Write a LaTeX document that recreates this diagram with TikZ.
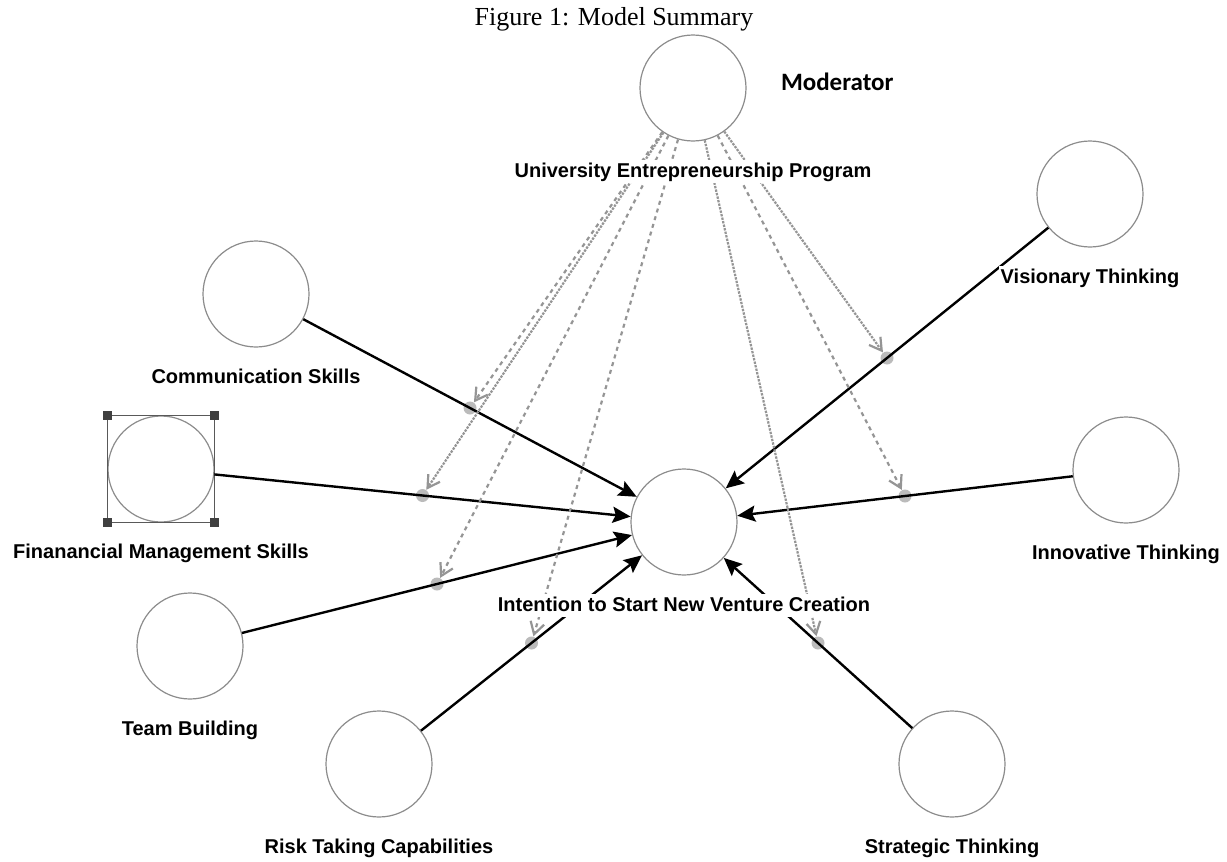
\documentclass[tikz,border=0pt]{standalone}
\usepackage{fontspec}
\setmainfont{Liberation Serif}
\setsansfont{Liberation Sans}
\newfontfamily\tagfont{Carlito}
\usetikzlibrary{positioning,arrows.meta,calc}
\definecolor{ringgray}{HTML}{8C8C8C}
\definecolor{pathgray}{HTML}{959595}
\definecolor{dotgray}{HTML}{BBBBBB}
\tikzset{
  latent/.style={circle,draw=ringgray,line width=0.6pt,fill=white,minimum size=53pt,inner sep=0pt},
  lab/.style={font=\sffamily\bfseries\fontsize{10}{12}\selectfont,fill=white,inner sep=1pt,text height=7.5pt,text depth=2pt},
  effect/.style={line width=1.2pt,-{Stealth[length=9pt,width=8pt,inset=1.5pt]}},
  modline/.style={draw=pathgray,line width=1.1pt,-{Straight Barb[length=6pt,width=7pt]}},
  coarse/.style={dash pattern=on 2pt off 2pt},
  fine/.style={dash pattern=on 1.2pt off 0.6pt},
  joint/.style={circle,fill=dotgray,minimum size=6.5pt,inner sep=0pt},
  handle/.style={fill=black!75,minimum size=4.5pt,inner sep=0pt}
}
\begin{document}
\begin{tikzpicture}[x=0.5pt,y=-0.5pt]
        \useasboundingbox (0,0) rectangle (1227,862);
        \node[font=\fontsize{13}{15}\selectfont] (title) at (614,19) {Figure 1: Model Summary};
        \node[latent] (mod) at (693,88) {};
        \node[latent] (vis) at (1090,194) {};
        \node[latent] (com) at (256,294) {};
        \node[latent] (fin) at (161,469) {};
        \node[latent] (inn) at (1126,470) {};
        \node[latent] (cen) at (684,522) {};
        \node[latent] (team) at (190,646) {};
        \node[latent] (risk) at (379,764) {};
        \node[latent] (strat) at (952,764) {};
        \coordinate (fnw) at (fin.west |- fin.north);
        \coordinate (fne) at (fin.east |- fin.north);
        \coordinate (fsw) at (fin.west |- fin.south);
        \coordinate (fse) at (fin.east |- fin.south);
        \draw[black!65,line width=0.6pt] (fnw) rectangle (fse);
        \node[handle] at (fnw) {};
        \node[handle] at (fne) {};
        \node[handle] at (fsw) {};
        \node[handle] at (fse) {};
        \node[joint] (jcom) at ($(com)!.5!(cen)$) {};
        \node[joint] (jfin) at ($(fin)!.5!(cen)$) {};
        \node[joint] (jteam) at ($(team)!.5!(cen)$) {};
        \node[joint] (jrisk) at ($(risk)!.5!(cen)$) {};
        \node[joint] (jstrat) at ($(strat)!.5!(cen)$) {};
        \node[joint] (jinn) at ($(inn)!.5!(cen)$) {};
        \node[joint] (jvis) at ($(vis)!.5!(cen)$) {};
        \draw[effect] (com) -- (cen);
        \draw[effect] (fin) -- (cen);
        \draw[effect] (team) -- (cen);
        \draw[effect] (risk) -- (cen);
        \draw[effect] (strat) -- (cen);
        \draw[effect] (inn) -- (cen);
        \draw[effect] (vis) -- (cen);
        \draw[modline,coarse] (mod) -- (jcom);
        \draw[modline,fine] (mod) -- (jfin);
        \draw[modline,coarse] (mod) -- (jteam);
        \draw[modline,coarse] (mod) -- (jrisk);
        \draw[modline,fine] (mod) -- (jstrat);
        \draw[modline,coarse] (mod) -- (jinn);
        \draw[modline,fine] (mod) -- (jvis);
        \node[lab,below=9pt of mod] (modlab) {University Entrepreneurship Program};
        \node[font=\tagfont\bfseries\fontsize{12.5}{14}\selectfont,inner sep=0pt,right=17pt of mod,yshift=3pt] (modtag) {Moderator};
        \node[lab,below=9pt of vis] (vislab) {Visionary Thinking};
        \node[lab,below=9pt of com] (comlab) {Communication Skills};
        \node[lab,below=9pt of fin] (finlab) {Finanancial Management Skills};
        \node[lab,below=9pt of inn] (innlab) {Innovative Thinking};
        \node[lab,below=9pt of cen] (cenlab) {Intention to Start New Venture Creation};
        \node[lab,below=9pt of team] (teamlab) {Team Building};
        \node[lab,below=9pt of risk] (risklab) {Risk Taking Capabilities};
        \node[lab,below=9pt of strat] (stratlab) {Strategic Thinking};
\end{tikzpicture}
\end{document}
